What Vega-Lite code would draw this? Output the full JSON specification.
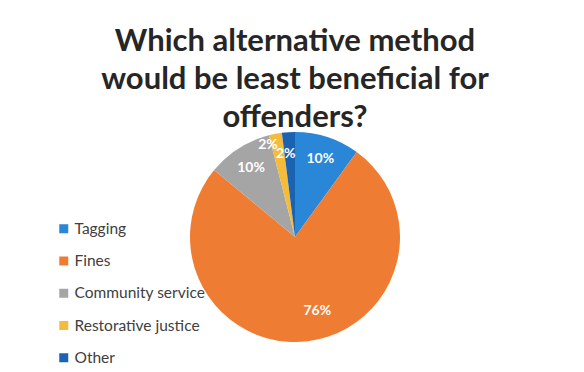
{
  "$schema": "https://vega.github.io/schema/vega-lite/v6.json",
  "autosize": "none",
  "width": 578,
  "height": 210,
  "padding": {"left": 6, "top": 132, "right": 0, "bottom": 30},
  "background": "white",
  "config": {"view": {"stroke": null}, "font": "Lato"},
  "title": {
    "text": ["Which alternative method", "would be least beneficial for", "offenders?"],
    "font": "Lato",
    "fontSize": 31,
    "fontWeight": "bold",
    "color": "#262626",
    "anchor": "middle",
    "frame": "group",
    "lineHeight": 38,
    "offset": -2
  },
  "data": {
    "values": [
      {"method": "Tagging", "pct": 10, "label": "10%"},
      {"method": "Fines", "pct": 76, "label": "76%"},
      {"method": "Community service", "pct": 10, "label": "10%"},
      {"method": "Restorative justice", "pct": 2, "label": "2%"},
      {"method": "Other", "pct": 2, "label": "2%"}
    ]
  },
  "encoding": {
    "theta": {"field": "pct", "type": "quantitative", "stack": true},
    "order": {"field": "order", "type": "quantitative"},
    "color": {
      "field": "method",
      "type": "nominal",
      "sort": ["Tagging", "Fines", "Community service", "Restorative justice", "Other"],
      "scale": {
        "domain": ["Tagging", "Fines", "Community service", "Restorative justice", "Other"],
        "range": ["#2A86D6", "#EE7D33", "#A5A5A5", "#F5BC3C", "#1A63B0"]
      },
      "legend": {
        "title": null,
        "orient": "none",
        "legendX": 50,
        "legendY": 89,
        "symbolType": "square",
        "symbolSize": 81,
        "symbolStrokeWidth": 0,
        "labelFont": "Lato",
        "labelFontSize": 15.5,
        "labelColor": "#404040",
        "rowPadding": 15.25,
        "padding": 0,
        "labelOffset": 3
      }
    }
  },
  "transform": [
    {"window": [{"op": "row_number", "as": "order"}]}
  ],
  "layer": [
    {"mark": {"type": "arc", "radius": 105}},
    {
      "mark": {"type": "text", "radius": 82, "fontSize": 14, "fontWeight": "bold", "font": "Lato", "fill": "white"},
      "encoding": {
        "text": {"condition": {"test": "datum.method === 'Tagging' || datum.method === 'Community service'", "field": "label"}, "value": ""},
        "color": {"value": "white"}
      }
    },
    {
      "mark": {"type": "text", "radius": 82, "dx": 12, "dy": -7, "fontSize": 14, "fontWeight": "bold", "font": "Lato", "fill": "white"},
      "encoding": {
        "text": {"condition": {"test": "datum.method === 'Fines'", "field": "label"}, "value": ""},
        "color": {"value": "white"}
      }
    },
    {
      "mark": {"type": "text", "radius": 96, "dx": -9, "dy": 2, "fontSize": 14, "fontWeight": "bold", "font": "Lato", "fill": "white"},
      "encoding": {
        "text": {"condition": {"test": "datum.method === 'Restorative justice'", "field": "label"}, "value": ""},
        "color": {"value": "white"}
      }
    },
    {
      "mark": {"type": "text", "radius": 84, "dx": -4, "dy": 1, "fontSize": 14, "fontWeight": "bold", "font": "Lato", "fill": "white"},
      "encoding": {
        "text": {"condition": {"test": "datum.method === 'Other'", "field": "label"}, "value": ""},
        "color": {"value": "white"}
      }
    }
  ]
}
